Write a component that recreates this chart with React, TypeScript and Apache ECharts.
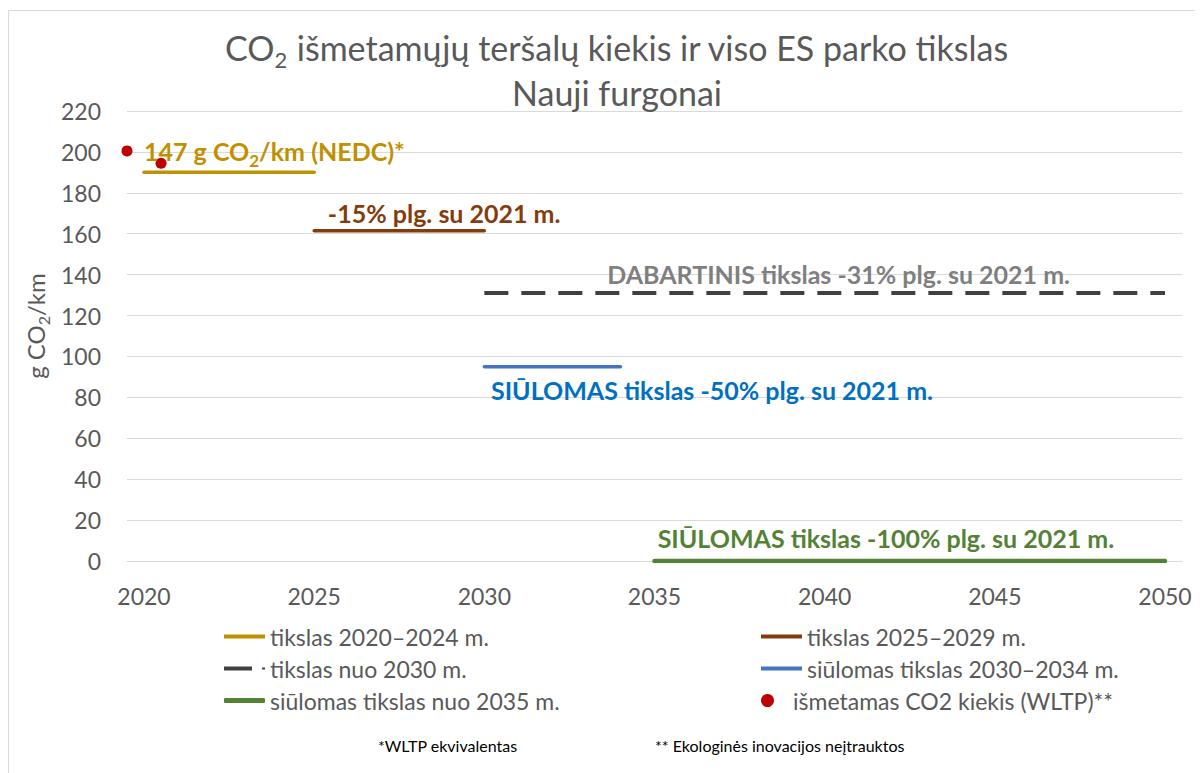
import React, { useEffect, useRef } from "react";
import * as echarts from "echarts";

const FONT = "Lato, 'Noto Sans', sans-serif";

const xTickYears = [2020, 2025, 2030, 2035, 2040, 2045, 2050];

const seriesNames = [
  "tikslas 2020–2024 m.",
  "tikslas 2025–2029 m.",
  "tikslas nuo 2030 m.",
  "siūlomas tikslas 2030–2034 m.",
  "siūlomas tikslas nuo 2035 m.",
  "išmetamas CO2 kiekis (WLTP)**",
];

const target2020 = [
  [2020, 190],
  [2025, 190],
];
const target2025 = [
  [2025, 161.5],
  [2030, 161.5],
];
const target2030 = [
  [2030, 131],
  [2050, 131],
];
const proposed2030 = [
  [2030, 95],
  [2034, 95],
];
const proposed2035 = [
  [2035, 0],
  [2050, 0],
];
const emissionsWltp = [
  [2019.5, 200.5],
  [2020.5, 194.5],
];

const noteTexts = [
  "147 g CO2/km (NEDC)*",
  "-15% plg. su 2021 m.",
  "DABARTINIS tikslas -31% plg. su 2021 m.",
  "SIŪLOMAS tikslas -50% plg. su 2021 m.",
  "SIŪLOMAS tikslas -100% plg. su 2021 m.",
];
const noteAnchors = [
  [2023.83, 200.6],
  [2028.82, 170.3],
  [2040.41, 140.3],
  [2036.69, 83.6],
  [2041.8, 11.2],
];
const noteColors = ["#BF9000", "#843C0C", "#7F7F7F", "#0070C0", "#548235"];

const footnotes = ["*WLTP ekvivalentas", "** Ekologinės inovacijos neįtrauktos"];

function subCO2(text: string, style: string) {
  const parts = text.split("CO2");
  return parts
    .map((p) => (p ? `{${style}|${p}}` : ""))
    .join(`{${style}|CO}{${style}Sub|2}`);
}

export default function App() {
  const ref = useRef<HTMLDivElement>(null);

  useEffect(() => {
    if (!ref.current) return;
    const chart = echarts.init(ref.current, undefined, { renderer: "svg" });

    const lineSeries = (name: string, data: number[][], color: string, width: number, dashed?: boolean) => ({
      name,
      type: "line",
      data,
      showSymbol: false,
      symbol: "none",
      color,
      lineStyle: {
        color,
        width,
        cap: dashed ? "butt" : "round",
        type: dashed ? [24, 13] : "solid",
      },
      z: 3,
    });

    const noteData = noteTexts.map((t, i) => ({
      value: noteAnchors[i],
      label: {
        show: true,
        position: [0, 0],
        align: "center",
        verticalAlign: "middle",
        color: noteColors[i],
        opacity: 1,
        formatter: subCO2(t, "n"),
        rich: {
          n: { fontFamily: FONT, fontSize: 25, fontWeight: "bold", color: noteColors[i], lineHeight: 30 },
          nSub: {
            fontFamily: FONT,
            fontSize: 17,
            fontWeight: "bold",
            color: noteColors[i],
            lineHeight: 30,
            padding: [19, 0, 0, 0],
          },
        },
      },
    }));

    const legendLayout = [
      { left: 216, top: 617 },
      { left: 753, top: 617 },
      { left: 216, top: 649 },
      { left: 753, top: 649 },
      { left: 216, top: 681 },
      { left: 753, top: 681 },
    ];
    const legendIcons = [
      "rect",
      "rect",
      "path://M0,0H28V4H0Z M38,1H41V3H38Z",
      "rect",
      "roundRect",
      "circle",
    ];

    const option: any = {
      animation: false,
      backgroundColor: "#ffffff",
      textStyle: { fontFamily: FONT },
      title: {
        text:
          subCO2("CO2 išmetamųjų teršalų kiekis ir viso ES parko tikslas", "t") +
          "\n{t|Nauji furgonai}",
        left: 604,
        top: 12,
        textAlign: "center",
        textStyle: {
          fontWeight: "normal",
          rich: {
            t: { fontFamily: FONT, fontSize: 34, fontWeight: "normal", color: "#595959", lineHeight: 45 },
            tSub: {
              fontFamily: FONT,
              fontSize: 22,
              fontWeight: "normal",
              color: "#595959",
              lineHeight: 45,
              padding: [24, 0, 0, 0],
            },
          },
        },
      },
      grid: { left: 119, right: 21, top: 103, height: 450, containLabel: false },
      xAxis: {
        type: "value",
        min: 2019.5,
        max: 2050.5,
        axisLine: { show: false },
        axisTick: { show: false },
        splitLine: { show: false },
        axisLabel: {
          customValues: xTickYears,
          formatter: (v: number) => String(v),
          fontFamily: FONT,
          fontSize: 23,
          color: "#595959",
          margin: 23,
        },
      },
      yAxis: {
        type: "value",
        min: 0,
        max: 220,
        interval: 20,
        axisLine: { show: false },
        axisTick: { show: false },
        splitLine: { lineStyle: { color: "#D9D9D9", width: 1 } },
        axisLabel: { fontFamily: FONT, fontSize: 23, color: "#595959", margin: 26 },
      },
      legend: seriesNames.map((n, i) => ({
        data: [n],
        left: legendLayout[i].left,
        top: legendLayout[i].top,
        padding: 0,
        itemGap: 0,
        itemWidth: 41,
        itemHeight: i === 5 ? 13 : i === 4 ? 5 : 4,
        icon: legendIcons[i],
        selectedMode: false,
        textStyle: { fontFamily: FONT, fontSize: 23, color: "#595959" },
      })),
      series: [
        lineSeries(seriesNames[0], target2020, "#BF9000", 3.5),
        lineSeries(seriesNames[1], target2025, "#843C0C", 3.5),
        lineSeries(seriesNames[2], target2030, "#404040", 4, true),
        lineSeries(seriesNames[3], proposed2030, "#4472C4", 3.5),
        lineSeries(seriesNames[4], proposed2035, "#548235", 4.5),
        {
          name: seriesNames[5],
          type: "scatter",
          data: emissionsWltp,
          symbol: "circle",
          symbolSize: 11,
          color: "#C00000",
          itemStyle: { color: "#C00000", opacity: 1 },
          z: 5,
        },
        {
          name: "notes",
          type: "scatter",
          data: noteData,
          symbolSize: 0,
          silent: true,
          itemStyle: { color: "#ffffff", opacity: 1 },
          z: 6,
        },
      ],
      graphic: [
        {
          type: "rect",
          shape: { x: 0.5, y: 2.5, width: 2000, height: 2000 },
          style: { fill: "none", stroke: "#D9D9D9", lineWidth: 1 },
          silent: true,
          z: -1,
        },
        {
          type: "text",
          x: 27,
          y: 318,
          rotation: Math.PI / 2,
          style: {
            text: subCO2("g CO2/km", "a"),
            align: "center",
            verticalAlign: "middle",
            rich: {
              a: { fontFamily: FONT, fontSize: 24, fill: "#595959", color: "#595959", lineHeight: 28 },
              aSub: {
                fontFamily: FONT,
                fontSize: 16,
                fill: "#595959",
                color: "#595959",
                lineHeight: 28,
                padding: [17, 0, 0, 0],
              },
            },
          },
        },
        {
          type: "text",
          x: 370,
          y: 737,
          style: {
            text: footnotes[0],
            fontFamily: FONT,
            fontSize: 16,
            fill: "#000000",
            verticalAlign: "middle",
          },
        },
        {
          type: "text",
          x: 647,
          y: 737,
          style: {
            text: footnotes[1],
            fontFamily: FONT,
            fontSize: 16,
            fill: "#000000",
            verticalAlign: "middle",
          },
        },
      ],
    };

    chart.setOption(option);
    return () => chart.dispose();
  }, []);

  return <div ref={ref} style={{ width: 1195, height: 765 }} />;
}
